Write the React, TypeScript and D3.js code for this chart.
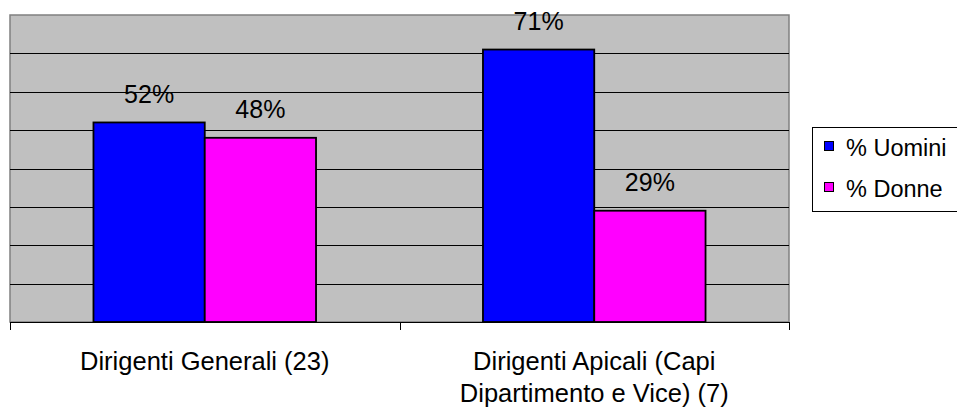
import React from "react";
import * as d3 from "d3";

const categories = ["Dirigenti Generali (23)", "Dirigenti Apicali (Capi Dipartimento e Vice) (7)"];
const categoryLines = [["Dirigenti Generali (23)"], ["Dirigenti Apicali (Capi", "Dipartimento e Vice) (7)"]];
const seriesNames = ["% Uomini", "% Donne"];
const seriesColors = ["#0000FF", "#FF00FF"];
const uomini = [0.52, 0.71];
const donne = [0.48, 0.29];
const valueLabels = [["52%", "48%"], ["71%", "29%"]];
const yTicks = [0, 0.1, 0.2, 0.3, 0.4, 0.5, 0.6, 0.7, 0.8];

const W = 957;
const H = 412;
const M = { left: 10, top: 15, right: 168, bottom: 90 };
const FONT = "'Liberation Sans', Arial, Helvetica, sans-serif";

export default function App() {
  const x0 = d3.scaleBand<string>().domain(categories).range([M.left, W - M.right]).padding(0);
  const bw = x0.bandwidth();
  const gap = (bw * 1.5) / 3.5;
  const x1 = d3.scaleBand<string>().domain(seriesNames).range([gap / 2, bw - gap / 2]).padding(0);
  const y = d3.scaleLinear().domain([0, 0.8]).range([H - M.bottom, M.top]);
  const values = [uomini, donne];
  const x0r = M.left;
  const x1r = W - M.right;
  const legX = 812;
  const legY = 127;

  return (
    <svg width={W} height={H} style={{ position: "absolute", left: 0, top: 0 }} fontFamily={FONT}>
      <rect x={0} y={0} width={W} height={H} fill="#ffffff" />
      <rect x={x0r} y={y(0.8)} width={x1r - x0r} height={y(0) - y(0.8)} fill="#C0C0C0" stroke="#808080" strokeWidth={1.5} />
      {yTicks.slice(1, -1).map((t) => (
        <line key={t} x1={x0r} x2={x1r} y1={Math.round(y(t)) + 0.5} y2={Math.round(y(t)) + 0.5} stroke="#000" strokeWidth={1} />
      ))}
      {categories.map((c, ci) =>
        seriesNames.map((s, si) => {
          const v = values[si][ci];
          const bx = (x0(c) as number) + (x1(s) as number);
          return (
            <g key={c + s}>
              <rect x={bx} y={y(v)} width={x1.bandwidth()} height={y(0) - y(v)} fill={seriesColors[si]} stroke="#000" strokeWidth={1.8} />
              <text x={bx + x1.bandwidth() / 2} y={y(v) - 19.5} textAnchor="middle" fontSize={25} fill="#000">
                {valueLabels[ci][si]}
              </text>
            </g>
          );
        })
      )}
      <line x1={x0r} x2={x1r} y1={y(0) + 0.5} y2={y(0) + 0.5} stroke="#000" strokeWidth={1} />
      {[...categories.map((c) => x0(c) as number), x1r].map((tx, i) => (
        <line key={i} x1={Math.round(tx) + 0.5} x2={Math.round(tx) + 0.5} y1={y(0)} y2={y(0) + 8} stroke="#000" strokeWidth={1} />
      ))}
      {categories.map((c, ci) => (
        <text key={c} x={(x0(c) as number) + bw / 2} y={y(0) + 48} textAnchor="middle" fontSize={25.5} fill="#000">
          {categoryLines[ci].map((ln, li) => (
            <tspan key={li} x={(x0(c) as number) + bw / 2} dy={li === 0 ? 0 : 31.5}>
              {ln}
            </tspan>
          ))}
        </text>
      ))}
      <rect x={legX + 0.5} y={legY + 0.5} width={W - legX + 5} height={84} fill="#fff" stroke="#000" strokeWidth={1} />
      {seriesNames.map((s, si) => (
        <g key={s}>
          <rect x={824.5} y={legY + 14.5 + si * 41} width={9} height={9} fill={seriesColors[si]} stroke="#000" strokeWidth={1} />
          <text x={846} y={legY + 29 + si * 41} fontSize={23.5} fill="#000">
            {s}
          </text>
        </g>
      ))}
    </svg>
  );
}
